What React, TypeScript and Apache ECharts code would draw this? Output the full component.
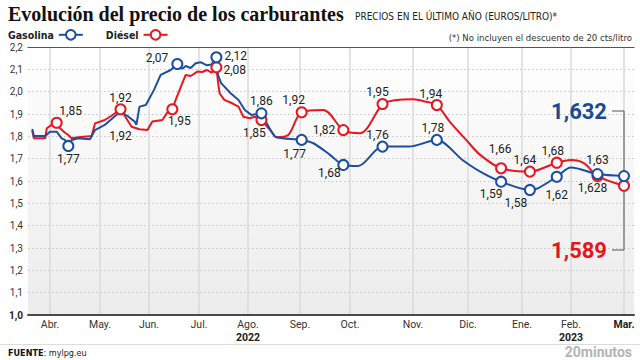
import React, { useEffect, useRef } from 'react';
import * as echarts from 'echarts';

// ---------- DATA ----------
// Gasolina (blue) — dates and €/litro
const gasDates = [
  '2022-03-21', '2022-03-22', '2022-03-29', '2022-04-01', '2022-04-05', '2022-04-08', '2022-04-10', '2022-04-12',
  '2022-04-14', '2022-04-18', '2022-04-25', '2022-04-28', '2022-05-04', '2022-05-10', '2022-05-14', '2022-05-19',
  '2022-05-23', '2022-05-24', '2022-05-26', '2022-05-30', '2022-06-04', '2022-06-08', '2022-06-14', '2022-06-18',
  '2022-06-21', '2022-06-23', '2022-06-26', '2022-06-29', '2022-07-02', '2022-07-06', '2022-07-09', '2022-07-12',
  '2022-07-13', '2022-07-15', '2022-07-21', '2022-07-26',
  '2022-07-30', '2022-08-03', '2022-08-09', '2022-08-15', '2022-08-18', '2022-09-02', '2022-09-09', '2022-09-19',
  '2022-09-27', '2022-10-05', '2022-10-17', '2022-10-30', '2022-11-14', '2022-11-28', '2022-12-08', '2022-12-20',
  '2023-01-06', '2023-01-11', '2023-01-23', '2023-02-01', '2023-02-15', '2023-03-01',
];
const gasValues = [
  1.833, 1.802, 1.802, 1.821, 1.821, 1.791, 1.784, 1.757,
  1.784, 1.791, 1.787, 1.828, 1.851, 1.888, 1.910, 1.888,
  1.866, 1.851, 1.933, 1.940, 2.008, 2.075, 2.097, 2.124,
  2.103, 2.115, 2.106, 2.127, 2.132, 2.118, 2.122, 2.154,
  2.075, 2.038, 1.993, 1.963,
  1.918, 1.896, 1.903, 1.821, 1.796, 1.784, 1.769, 1.717,
  1.672, 1.667, 1.754, 1.754, 1.784, 1.694, 1.642, 1.597,
  1.560, 1.567, 1.619, 1.660, 1.631, 1.622,
];

// Diésel (red)
const dieDates = [
  '2022-03-21', '2022-03-22', '2022-03-29', '2022-03-30', '2022-04-02', '2022-04-05', '2022-04-07', '2022-04-10',
  '2022-04-12', '2022-04-14', '2022-04-18', '2022-04-26', '2022-04-28', '2022-05-04', '2022-05-08', '2022-05-14',
  '2022-05-17', '2022-05-21', '2022-05-26', '2022-05-31', '2022-06-03', '2022-06-09', '2022-06-13', '2022-06-15',
  '2022-06-17', '2022-06-21', '2022-06-23', '2022-06-26', '2022-06-30', '2022-07-03', '2022-07-06', '2022-07-09',
  '2022-07-12', '2022-07-13',
  '2022-07-14', '2022-07-17', '2022-07-22', '2022-07-26', '2022-07-29', '2022-08-02', '2022-08-05', '2022-08-09',
  '2022-08-15', '2022-08-18', '2022-08-25', '2022-09-02', '2022-09-15', '2022-09-27', '2022-10-06', '2022-10-17',
  '2022-10-22', '2022-11-01', '2022-11-08', '2022-11-14', '2022-11-21', '2022-11-30', '2022-12-08', '2022-12-20',
  '2023-01-06', '2023-01-23', '2023-02-01', '2023-02-08', '2023-02-15', '2023-03-01',
];
const dieValues = [
  1.825, 1.791, 1.791, 1.836, 1.851, 1.861, 1.836, 1.816,
  1.806, 1.791, 1.796, 1.802, 1.858, 1.873, 1.891, 1.921,
  1.888, 1.843, 1.832, 1.828, 1.866, 1.873, 1.918, 1.921,
  1.963, 2.038, 2.075, 2.070, 2.090, 2.088, 2.097, 2.085,
  2.109, 2.045,
  1.993, 1.963, 1.948, 1.933, 1.888, 1.881, 1.888, 1.873,
  1.821, 1.796, 1.806, 1.908, 1.918, 1.828, 1.814, 1.945,
  1.960, 1.966, 1.955, 1.940, 1.866, 1.784, 1.717, 1.657,
  1.642, 1.682, 1.694, 1.679, 1.622, 1.579,
];

// Highlighted points and their printed labels
const gasMarkerDates = [
  '2022-04-12', '2022-05-14', '2022-06-18', '2022-07-12', '2022-08-09', '2022-09-02', '2022-09-27',
  '2022-10-17', '2022-11-14', '2022-12-20', '2023-01-06', '2023-01-23', '2023-02-15', '2023-03-01',
];
const gasMarkerLabels = ['1,77', '1,92', '2,07', '2,12', '1,86', '1,77', '1,68', '1,76', '1,78', '1,59', '1,58', '1,62', '1,63', ''];
const dieMarkerDates = [
  '2022-04-05', '2022-05-14', '2022-06-15', '2022-07-12', '2022-08-09', '2022-09-02', '2022-09-27',
  '2022-10-17', '2022-11-14', '2022-12-20', '2023-01-06', '2023-01-23', '2023-02-15', '2023-03-01',
];
const dieMarkerLabels = ['1,85', '1,92', '1,95', '2,08', '1,85', '1,92', '1,82', '1,95', '1,94', '1,66', '1,64', '1,68', '1,628', ''];

// Axis ticks
const monthTickDates = [
  '2022-04-01', '2022-05-01', '2022-06-01', '2022-07-01', '2022-08-01', '2022-09-01',
  '2022-10-01', '2022-11-01', '2022-12-01', '2023-01-01', '2023-02-01', '2023-03-01',
];
const monthLabels = ['Abr.', 'May.', 'Jun.', 'Jul.', 'Ago.', 'Sep.', 'Oct.', 'Nov.', 'Dic.', 'Ene.', 'Feb.', 'Mar.'];
const yearLabels: Record<string, string> = { 'Ago.': '2022', 'Feb.': '2023' };

const lastGas = '1,632';
const lastDie = '1,589';

// ---------- LAYOUT / STYLE ----------
// the reference's time axis gives each month its own width (Mar-2022 .. Mar-2023)
const MONTH_WIDTH = [50, 50, 49, 50, 49, 52, 50, 63, 55, 54, 49, 53, 50];
const SMOOTH_FROM = '2022-08-09';
const BLUE = '#1c4f9f';
const RED = '#e8161e';
const NARROW = "'Liberation Sans Narrow', 'DejaVu Sans Condensed', Roboto, sans-serif";
const SANS = 'Roboto, sans-serif';

// [position, dx, dy, hidden-marker]
const gasLabelPlace: [string, number, number, boolean?][] = [
  ['bottom', 0, 1], ['bottom', 0, 18, true], ['left', -3, -6], ['right', 2, -1], ['top', 0, 0], ['bottom', -7, 2],
  ['bottom', -14, -4], ['top', -5, 0], ['top', -4, 0], ['bottom', -10, 0], ['bottom', -14, 1], ['bottom', 0, 6],
  ['top', 0, -2], ['top', 0, 0],
];
const dieLabelPlace: [string, number, number, boolean?][] = [
  ['top', 14, 0], ['top', 0, 1], ['bottom', 7, 0], ['right', 1, 3], ['bottom', -7, 1], ['top', -8, 0],
  ['left', -2, 0], ['top', -5, 0], ['top', -6, 1], ['top', -1, -7], ['top', -5, 0], ['top', -4, 0],
  ['bottom', -5, 0], ['top', 0, 0],
];

function daysIn(y: number, m: number) {
  return new Date(y, m, 0).getDate();
}
function pos(date: string) {
  const [y, m, d] = date.split('-').map(Number);
  const idx = (y - 2022) * 12 + (m - 3);
  let start = 0;
  for (let i = 0; i < idx; i++) start += MONTH_WIDTH[i];
  return start + ((d - 1) / daysIn(y, m)) * MONTH_WIDTH[idx];
}

function lineData(dates: string[], values: number[], smoothPart: boolean) {
  const out: [number, number][] = [];
  dates.forEach((d, i) => {
    if (smoothPart ? d >= SMOOTH_FROM : d <= SMOOTH_FROM) out.push([pos(d), values[i]]);
  });
  return out;
}

function markerData(mDates: string[], mLabels: string[], place: any[], dates: string[], values: number[]) {
  return mDates.map((d, i) => {
    const v = values[dates.indexOf(d)];
    const [position, dx, dy, hidden] = place[i];
    return {
      value: [pos(d), v],
      symbolSize: hidden ? 0 : 10,
      label: {
        show: mLabels[i] !== '',
        formatter: mLabels[i],
        position,
        distance: 0,
        offset: [dx, dy],
      },
    };
  });
}

export default function App() {
  const ref = useRef<HTMLDivElement>(null);

  useEffect(() => {
    if (!ref.current) return;
    const chart = echarts.init(ref.current, undefined, { renderer: 'svg' });
    const ticks = monthTickDates.map(pos);

    const markerLabel = { color: '#222', fontFamily: SANS, fontSize: 12 };

    chart.setOption({
      animation: false,
      textStyle: { fontFamily: SANS },
      grid: {
        left: 28,
        right: 6,
        top: 47,
        bottom: 45,
        show: true,
        borderWidth: 0,
        backgroundColor: new echarts.graphic.LinearGradient(0, 0, 0, 1, [
          { offset: 0, color: '#ffffff' },
          { offset: 1, color: '#ececec' },
        ]),
      },
      legend: {
        data: ['Gasolina', 'Diésel'],
        left: 8,
        top: 29,
        padding: 0,
        itemWidth: 24,
        itemHeight: 12,
        itemGap: 22,
        align: 'right',
        textStyle: { fontFamily: NARROW, fontWeight: 'bold', fontSize: 10.5, color: '#222', padding: [0, 0, 0, 0] },
      },
      xAxis: [
        {
          type: 'value',
          min: 28,
          max: 634,
          axisLine: { show: true, onZero: false, lineStyle: { color: '#4a4a4a', width: 2 } },
          axisTick: { show: false, customValues: ticks },
          axisLabel: {
            customValues: ticks,
            margin: 2,
            color: '#333',
            fontSize: 10.5,
            fontFamily: SANS,
            lineHeight: 14,
            formatter: (v: number) => {
              const i = ticks.findIndex((t) => Math.abs(t - v) < 0.01);
              if (i < 0) return '';
              const name = monthLabels[i];
              const main = i === monthLabels.length - 1 ? `{b|${name}}` : name;
              return yearLabels[name] ? `${main}\n{yr|${yearLabels[name]}}` : main;
            },
            rich: {
              b: { fontWeight: 'bold', fontSize: 10.5, color: '#222' },
              yr: { fontWeight: 'bold', fontSize: 10.5, color: '#222', lineHeight: 13 },
            },
          },
          splitLine: { show: true, lineStyle: { color: '#dadada', width: 1.5 } },
        },
        {
          type: 'value',
          position: 'top',
          min: 28,
          max: 634,
          axisLine: { show: true, lineStyle: { color: '#555', width: 1.2 } },
          axisTick: { show: false },
          axisLabel: { show: false },
          splitLine: { show: false },
        },
      ],
      yAxis: {
        type: 'value',
        min: 1,
        max: 2.2,
        interval: 0.1,
        axisLine: { show: false },
        axisTick: { show: false },
        axisLabel: {
          margin: 5,
          color: '#333',
          fontSize: 10,
          fontFamily: SANS,
          formatter: (v: number) => {
            const s = v.toFixed(1).replace('.', ',');
            return Math.abs(v - 1) < 1e-6 ? `{b|${s}}` : s;
          },
          rich: { b: { fontWeight: 'bold', fontSize: 10, color: '#222' } },
        },
        splitLine: { lineStyle: { type: [1.5, 2.5], color: '#c4c4c4', width: 1 } },
      },
      series: [
        {
          name: 'Gasolina',
          type: 'line',
          color: BLUE,
          symbol: 'emptyCircle',
          symbolSize: 10,
          showSymbol: false,
          lineStyle: { width: 2, color: BLUE },
          data: lineData(gasDates, gasValues, false),
          z: 3,
        },
        {
          name: 'Diésel',
          type: 'line',
          color: RED,
          symbol: 'emptyCircle',
          symbolSize: 10,
          showSymbol: false,
          lineStyle: { width: 2, color: RED },
          data: lineData(dieDates, dieValues, false),
          z: 2,
        },
        {
          name: 'Diésel',
          type: 'line',
          color: RED,
          symbol: 'emptyCircle',
          showSymbol: false,
          smooth: 0.3,
          lineStyle: { width: 2, color: RED },
          data: lineData(dieDates, dieValues, true),
          z: 2,
        },
        {
          name: 'Gasolina',
          type: 'line',
          color: BLUE,
          symbol: 'emptyCircle',
          showSymbol: false,
          smooth: 0.3,
          lineStyle: { width: 2, color: BLUE },
          data: lineData(gasDates, gasValues, true),
          z: 3,
        },
        {
          name: 'dieMarkers',
          type: 'scatter',
          symbol: 'circle',
          itemStyle: { color: '#fff', borderColor: RED, borderWidth: 2, opacity: 1 },
          label: markerLabel,
          data: markerData(dieMarkerDates, dieMarkerLabels, dieLabelPlace, dieDates, dieValues),
          z: 4,
        },
        {
          name: 'gasMarkers',
          type: 'scatter',
          symbol: 'circle',
          itemStyle: { color: '#fff', borderColor: BLUE, borderWidth: 2, opacity: 1 },
          label: markerLabel,
          data: markerData(gasMarkerDates, gasMarkerLabels, gasLabelPlace, gasDates, gasValues),
          z: 5,
        },
      ],
    });

    const xEnd = chart.convertToPixel({ xAxisIndex: 0 }, pos('2023-03-01')) as number;
    const yTop = 111;
    const yBot = 250;

    chart.setOption({
      graphic: [
        {
          type: 'text',
          left: 8,
          top: 4,
          style: {
            text: 'Evolución del precio de los carburantes',
            fontFamily: "'Liberation Serif', 'DejaVu Serif', serif",
            fontWeight: 'bold',
            fontSize: 20,
            fill: '#111',
          },
        },
        {
          type: 'text',
          x: 355,
          y: 16.5,
          style: {
            text: 'PRECIOS EN EL ÚLTIMO AÑO (EUROS/LITRO)*',
            fontFamily: NARROW,
            fontSize: 10,
            fill: '#222',
            verticalAlign: 'middle',
          },
        },
        {
          type: 'text',
          x: 632,
          y: 37,
          style: {
            text: '(*) No incluyen el descuento de 20 cts/litro',
            fontFamily: NARROW,
            fontSize: 9.5,
            fill: '#333',
            align: 'right',
            verticalAlign: 'middle',
          },
        },
        {
          type: 'polyline',
          shape: { points: [[xEnd - 12, yTop], [xEnd, yTop], [xEnd, yBot], [xEnd - 12, yBot]] },
          style: { stroke: '#555', lineWidth: 1, fill: 'none' },
          z: 1,
        },
        {
          type: 'text',
          x: xEnd - 17,
          y: yTop,
          style: {
            text: lastGas,
            fontFamily: SANS,
            fontWeight: 'bold',
            fontSize: 22,
            fill: '#1b4a94',
            align: 'right',
            verticalAlign: 'middle',
          },
        },
        {
          type: 'text',
          x: xEnd - 17,
          y: yBot,
          style: {
            text: lastDie,
            fontFamily: SANS,
            fontWeight: 'bold',
            fontSize: 22,
            fill: '#e8141b',
            align: 'right',
            verticalAlign: 'middle',
          },
        },
        {
          type: 'line',
          shape: { x1: 0, y1: 344.5, x2: 640, y2: 344.5 },
          style: { stroke: '#dcdcdc', lineWidth: 1 },
        },
        {
          type: 'text',
          x: 8,
          y: 352.5,
          style: {
            text: '{b|FUENTE}: mylpg.eu',
            fontFamily: NARROW,
            fontSize: 9,
            fill: '#222',
            verticalAlign: 'middle',
            rich: { b: { fontWeight: 'bold', fontFamily: NARROW, fontSize: 9, fill: '#111' } },
          },
        },
        {
          type: 'text',
          x: 632,
          y: 352,
          style: {
            text: '20minutos',
            fontFamily: SANS,
            fontWeight: 'bold',
            fontSize: 14,
            fill: '#b4b4b4',
            align: 'right',
            verticalAlign: 'middle',
          },
        },
      ],
    });

    return () => chart.dispose();
  }, []);

  return (
    <div
      ref={ref}
      style={{ position: 'fixed', left: 0, top: 0, width: 640, height: 360, background: '#fff' }}
    />
  );
}
